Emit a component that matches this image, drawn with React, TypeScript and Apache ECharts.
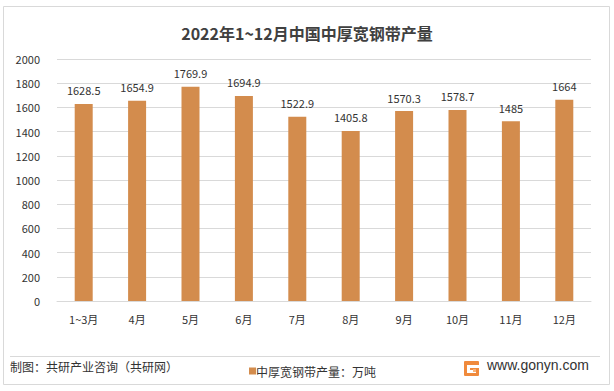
import React, { useEffect, useRef } from "react";
import * as echarts from "echarts";

const categories = ["1~3月", "4月", "5月", "6月", "7月", "8月", "9月", "10月", "11月", "12月"];
const values = [1628.5, 1654.9, 1769.9, 1694.9, 1522.9, 1405.8, 1570.3, 1578.7, 1485, 1664];
const seriesName = "中厚宽钢带产量：万吨";
const titleText = "2022年1~12月中国中厚宽钢带产量";
const sourceText = "制图：共研产业咨询（共研网）";
const siteText = "www.gonyn.com";

const FONT = "'Noto Sans CJK SC', 'Noto Sans', sans-serif";
const TXT = "#333333";
const BAR = "#D38C4D";

export default function App() {
  const ref = useRef<HTMLDivElement>(null);
  useEffect(() => {
    if (!ref.current) return;
    const chart = echarts.init(ref.current, undefined, { renderer: "svg" });
    chart.setOption({
      animation: false,
      backgroundColor: "#ffffff",
      textStyle: { fontFamily: FONT },
      title: {
        text: titleText,
        left: "center",
        top: 20,
        textStyle: { fontSize: 16, fontWeight: "bold", color: "#404040", fontFamily: FONT },
      },
      grid: { left: 57, right: 23, top: 59, bottom: 90, containLabel: false },
      legend: {
        left: 244,
        top: 360,
        itemWidth: 7,
        itemHeight: 7,
        icon: "rect",
        itemGap: 4,
        textStyle: { fontSize: 12, color: TXT, fontFamily: FONT, padding: [0, 0, 0, -5] },
        data: [seriesName],
      },
      xAxis: {
        type: "category",
        data: categories,
        axisLine: { lineStyle: { color: "#d9d9d9" } },
        axisTick: { show: false },
        axisLabel: { color: TXT, fontSize: 11, margin: 12, fontFamily: FONT },
      },
      yAxis: {
        type: "value",
        min: 0,
        max: 2000,
        interval: 200,
        axisLine: { show: false },
        axisTick: { show: false },
        splitLine: { lineStyle: { color: "#d9d9d9" } },
        axisLabel: {
          color: TXT,
          fontSize: 11,
          margin: 17,
          fontFamily: FONT,
          formatter: (v: number) => String(v),
        },
      },
      series: [
        {
          name: seriesName,
          type: "bar",
          data: values,
          barWidth: 18,
          itemStyle: { color: BAR },
          label: {
            show: true,
            position: "top",
            distance: 8,
            color: TXT,
            fontSize: 11,
            fontFamily: FONT,
          },
        },
      ],
      graphic: [
        {
          type: "rect",
          shape: { x: 3.5, y: 6.5, width: 606, height: 378 },
          style: { fill: "none", stroke: "#d9d9d9", lineWidth: 1 },
          silent: true,
        },
        {
          type: "line",
          shape: { x1: 10, y1: 356.5, x2: 600, y2: 356.5 },
          style: { stroke: "#d9d9d9", lineWidth: 1 },
        },
        {
          type: "text",
          left: 10,
          top: 360,
          style: { text: sourceText, fontSize: 12, fill: TXT, fontFamily: FONT },
        },
        {
          type: "group",
          left: 464,
          top: 361,
          children: [
            { type: "rect", shape: { x: 0, y: 0, width: 15, height: 15, r: 1 }, style: { fill: "#F08A3C" } },
            { type: "rect", shape: { x: 3, y: 4, width: 12, height: 3 }, style: { fill: "#ffffff" } },
            { type: "rect", shape: { x: 3, y: 4, width: 3, height: 8 }, style: { fill: "#ffffff" } },
            { type: "rect", shape: { x: 3, y: 9, width: 9, height: 3 }, style: { fill: "#ffffff" } },
            { type: "rect", shape: { x: 9, y: 8, width: 3, height: 3 }, style: { fill: "#F8B27A" } },
          ],
        },
        {
          type: "text",
          left: 487,
          top: 358,
          style: { text: siteText, fontSize: 14, fill: TXT, fontFamily: "'Liberation Sans', Arial, sans-serif" },
        },
      ],
    });
    return () => chart.dispose();
  }, []);
  return (
    <div
      ref={ref}
      style={{ position: "absolute", left: 0, top: 0, width: 614, height: 391 }}
    />
  );
}
